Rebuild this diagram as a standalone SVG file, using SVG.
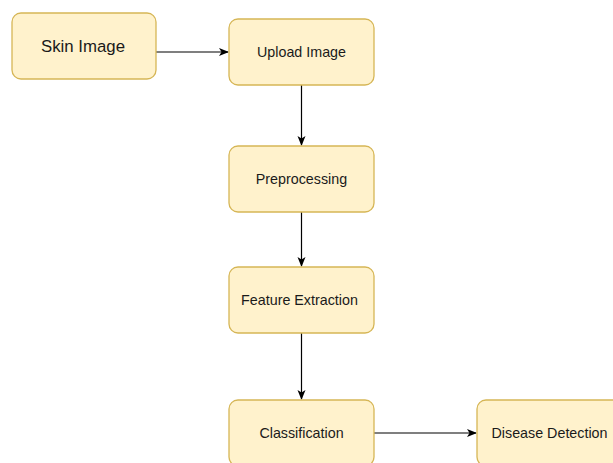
<svg xmlns="http://www.w3.org/2000/svg" width="613" height="463" viewBox="0 0 613 463">
<defs>
<style>
.box{fill:#fff2cc;stroke:#d6b656;stroke-width:1.3}
.t{font-family:"Liberation Sans",Arial,sans-serif;font-size:14.3px;fill:#1a1a1a;text-anchor:middle;dominant-baseline:central}
.e{stroke:#000;stroke-width:1.2;fill:none}
</style>
<marker id="ah" viewBox="0 0 10 10" refX="9" refY="5" markerWidth="10" markerHeight="10" markerUnits="userSpaceOnUse" orient="auto">
<path d="M0,1 L10,5 L0,9 L2.5,5 Z" fill="#000"/>
</marker>
</defs>
<rect width="613" height="463" fill="#fff"/>
<g id="connectors">
<line class="e" x1="156" y1="52" x2="228" y2="52" marker-end="url(#ah)"/>
<line class="e" x1="301.5" y1="85" x2="301.5" y2="145" marker-end="url(#ah)"/>
<line class="e" x1="301.5" y1="212" x2="301.5" y2="266" marker-end="url(#ah)"/>
<line class="e" x1="301.5" y1="333" x2="301.5" y2="399" marker-end="url(#ah)"/>
<line class="e" x1="374" y1="433" x2="476" y2="433" marker-end="url(#ah)"/>
</g>
<g id="skin-image"><rect class="box" x="12" y="13" width="144" height="66" rx="9"/><text class="t" x="83" y="46" style="font-size:16.8px">Skin Image</text></g>
<g id="upload-image"><rect class="box" x="229" y="19" width="145" height="66" rx="9"/><text class="t" x="301.5" y="52">Upload Image</text></g>
<g id="preprocessing"><rect class="box" x="229" y="146" width="145" height="66" rx="9"/><text class="t" x="301.5" y="179">Preprocessing</text></g>
<g id="feature-extraction"><rect class="box" x="229" y="267" width="145" height="66" rx="9"/><text class="t" x="299.5" y="300">Feature Extraction</text></g>
<g id="classification"><rect class="box" x="229" y="400" width="145" height="66" rx="9"/><text class="t" x="301.5" y="433">Classification</text></g>
<g id="disease-detection"><rect class="box" x="477" y="400" width="145" height="66" rx="9"/><text class="t" x="549.5" y="433">Disease Detection</text></g>
</svg>
